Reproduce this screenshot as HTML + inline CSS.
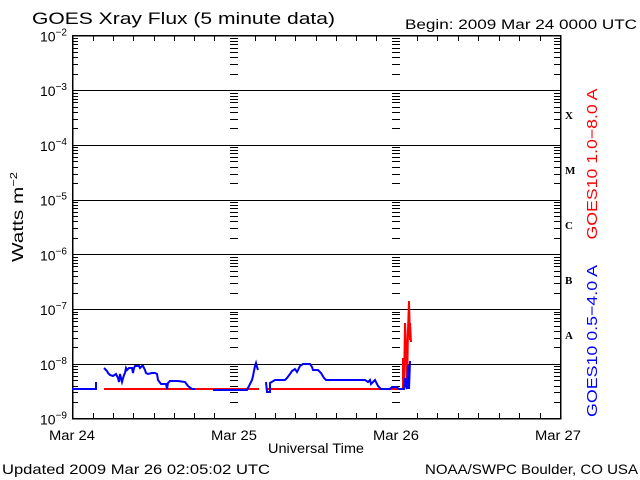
<!DOCTYPE html>
<html><head><meta charset="utf-8"><style>
html,body{margin:0;padding:0;background:#fff;width:640px;height:480px;overflow:hidden}
text{font-family:"Liberation Sans",sans-serif}
</style></head><body>
<svg id="s" width="640" height="480" viewBox="0 0 640 480" xmlns="http://www.w3.org/2000/svg">
<rect width="640" height="480" fill="#fff"/>
<g id="grid" stroke="#000" stroke-width="1" shape-rendering="crispEdges"></g>
<rect x="72.5" y="35.5" width="488" height="383" fill="none" stroke="#000" stroke-width="1.5" shape-rendering="crispEdges"/>
<text x="32" y="24" font-size="17" textLength="303" lengthAdjust="spacingAndGlyphs">GOES Xray Flux (5 minute data)</text>
<text x="405" y="29" font-size="13.5" textLength="232" lengthAdjust="spacingAndGlyphs">Begin:  2009 Mar 24 0000 UTC</text>
<g font-size="14" id="ylab"></g>
<text transform="translate(23,217) rotate(-90)" font-size="16" text-anchor="middle" textLength="90" lengthAdjust="spacingAndGlyphs">Watts m<tspan dy="-6" font-size="10">−2</tspan></text>
<g font-weight="bold" font-size="11">
<text x="565" y="119" style="font-family:'Liberation Serif',serif">X</text>
<text x="565" y="174" style="font-family:'Liberation Serif',serif">M</text>
<text x="565" y="229" style="font-family:'Liberation Serif',serif">C</text>
<text x="565" y="284" style="font-family:'Liberation Serif',serif">B</text>
<text x="565" y="339" style="font-family:'Liberation Serif',serif">A</text>
</g>
<text transform="translate(597,164) rotate(-90)" font-size="15" fill="#f00" text-anchor="middle" textLength="151" lengthAdjust="spacingAndGlyphs">GOES10 1.0−8.0 A</text>
<text transform="translate(597,341) rotate(-90)" font-size="15" fill="#00f" text-anchor="middle" textLength="152" lengthAdjust="spacingAndGlyphs">GOES10 0.5−4.0 A</text>
<g font-size="13.5" text-anchor="middle">
<text x="72" y="440" textLength="46" lengthAdjust="spacingAndGlyphs">Mar 24</text><text x="234" y="440" textLength="46" lengthAdjust="spacingAndGlyphs">Mar 25</text><text x="396" y="440" textLength="46" lengthAdjust="spacingAndGlyphs">Mar 26</text><text x="558" y="440" textLength="46" lengthAdjust="spacingAndGlyphs">Mar 27</text>
</g>
<text x="268" y="453" font-size="13.5" textLength="96" lengthAdjust="spacingAndGlyphs">Universal Time</text>
<text x="2" y="474" font-size="14" textLength="268" lengthAdjust="spacingAndGlyphs">Updated 2009 Mar 26 02:05:02 UTC</text>
<text x="425" y="474" font-size="14" textLength="213" lengthAdjust="spacingAndGlyphs">NOAA/SWPC Boulder, CO USA</text>
<polyline fill="none" stroke="#f00" stroke-width="2" points="104,389 259,389"/>
<polyline fill="none" stroke="#f00" stroke-width="2" points="266,389 403,389 403,358 404,389 405,323 406,345 407,388 408,330 409,301 410,340 410,323 411,342"/>
<g fill="none" stroke="#00f" stroke-width="2">
<polyline points="72,389 96,389 96,382"/>
<polyline points="104,368 107,371 108,373 110,375 113,376 116,374 118,378 119,382 120,374 121,378 122,382 124,375 125,373 126,368 127,370 129,368 132,368 133,373 134,368 135,366 139,366 140,368 142,366 143,366 145,370 146,373 148,374 152,373 155,373 157,374 158,380 161,384 166,384 167,389 168,383 170,381 178,381 185,382 188,386 192,389 195,389"/>
<polyline points="213,390 247,390 250,384 252,380 253,376 255,366 256,363 257,367 258,370"/>
<polyline points="266,382 267,392 270,392 270,383 275,380 285,380 287,378 290,374 292,371 295,369 297,372 300,366 303,364 310,364 312,367 313,370 318,370 321,373 324,378 326,380 365,380 368,382 370,380 371,384 373,382 375,380 378,386 381,389 390,389 392,387 396,387 399,389 404,389 405,378 406,386 407,389 408,365 409,380 409,389 410,361"/>
</g>
</svg>
<script>
(function(){
var g=document.getElementById('grid'),yl=document.getElementById('ylab'),ns='http://www.w3.org/2000/svg';
function L(x1,y1,x2,y2){var l=document.createElementNS(ns,'line');l.setAttribute('x1',x1);l.setAttribute('y1',y1);l.setAttribute('x2',x2);l.setAttribute('y2',y2);g.appendChild(l);}
var top=35.5,dh=54.71;
for(var d=0;d<7;d++){
 var y0=Math.round(top+d*dh)+0.5;
 if(d>0)L(72,y0,560,y0);
 for(var k=2;k<=9;k++){
  var y=Math.round(top+d*dh+dh-(Math.log10(k))*dh)+0.5;
  L(72,y,78,y);L(554,y,560,y);
  L(230,y,238,y);L(392,y,400,y);
 }
}
for(var d=0;d<8;d++){
 var e=-2-d,y=top+d*dh;
 var t=document.createElementNS(ns,'text');t.setAttribute('x',40);t.setAttribute('y',y+6);
 t.innerHTML='10<tspan dy="-6" font-size="10">−'+(-e)+'</tspan>';yl.appendChild(t);
}
var xs=[72.5,234.5,396.5,560];
for(var i=0;i<3;i++){
 var x0=xs[i],w=(xs[i+1]-x0)/8;
 for(var h=1;h<8;h++){var x=Math.round(x0+h*w)+0.5;L(x,419,x,413);L(x,36,x,41);}
}
})();
</script>
</body></html>
